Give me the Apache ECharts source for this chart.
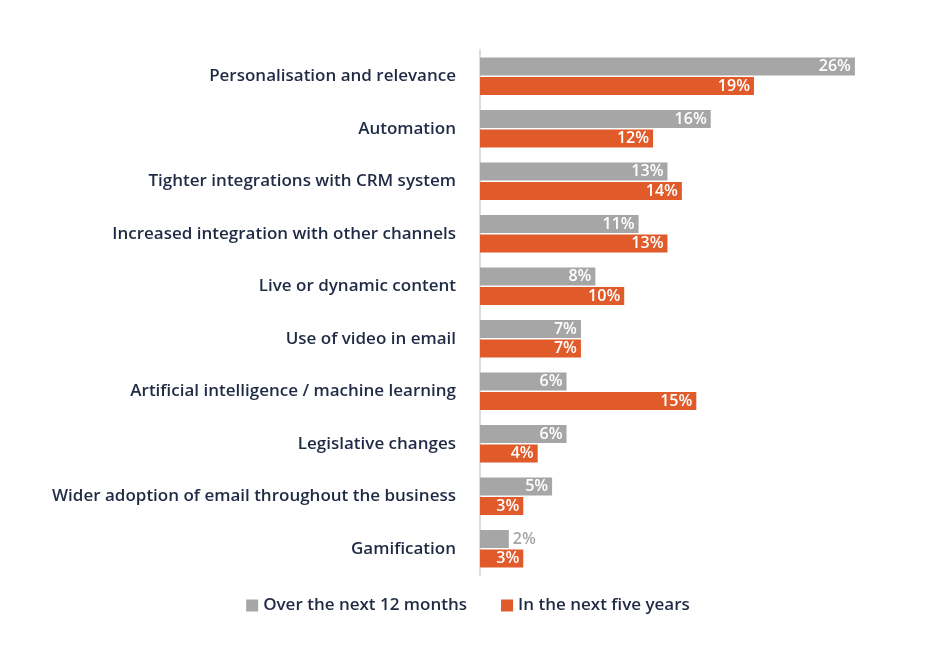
<!DOCTYPE html>
<html><head><meta charset="utf-8">
<script src="https://cdn.jsdelivr.net/npm/echarts@6/dist/echarts.min.js"></script>
<style>html,body{margin:0;padding:0;background:#fff}#c{width:936px;height:663px}</style>
</head><body><div id="c"></div>
<script>
const categories = ["Personalisation and relevance","Automation","Tighter integrations with CRM system","Increased integration with other channels","Live or dynamic content","Use of video in email","Artificial intelligence / machine learning","Legislative changes","Wider adoption of email throughout the business","Gamification"];
const next12 = [26,16,13,11,8,7,6,6,5,2];
const fiveYears = [19,12,14,13,10,7,15,4,3,3];
const seriesNames = ["Over the next 12 months","In the next five years"];
const font = "'Open Sans', sans-serif";
function lbl(color){return {show:true,position:'insideRight',color:'#fff',fontFamily:font,fontSize:16,fontWeight:600,formatter:'{c}%',distance:4};}
const chart = echarts.init(document.getElementById('c'));
chart.setOption({
  animation:false,
  grid:{left:480,top:50,width:432.6,height:525},
  legend:{bottom:44,left:'center',itemWidth:12,itemHeight:12,itemGap:34,icon:'rect',
    textStyle:{fontFamily:font,fontSize:17,fontWeight:600,color:'#1f2a44'}},
  xAxis:{type:'value',min:0,max:30,show:false},
  yAxis:{type:'category',data:categories,inverse:true,
    axisLine:{lineStyle:{color:'#d0d0d0',width:1.5}},axisTick:{show:false},
    axisLabel:{margin:24,fontFamily:font,fontSize:17,fontWeight:600,color:'#1f2a44'}},
  series:[
    {name:seriesNames[0],type:'bar',barWidth:18,barGap:'8%',itemStyle:{color:'#a6a6a6'},
     label:lbl(),data:next12.map(v=>v<3?{value:v,label:{position:'right',color:'#a6a6a6'}}:v)},
    {name:seriesNames[1],type:'bar',barWidth:18,itemStyle:{color:'#e05a2a'},label:lbl(),data:fiveYears}
  ]
});
</script></body></html>
